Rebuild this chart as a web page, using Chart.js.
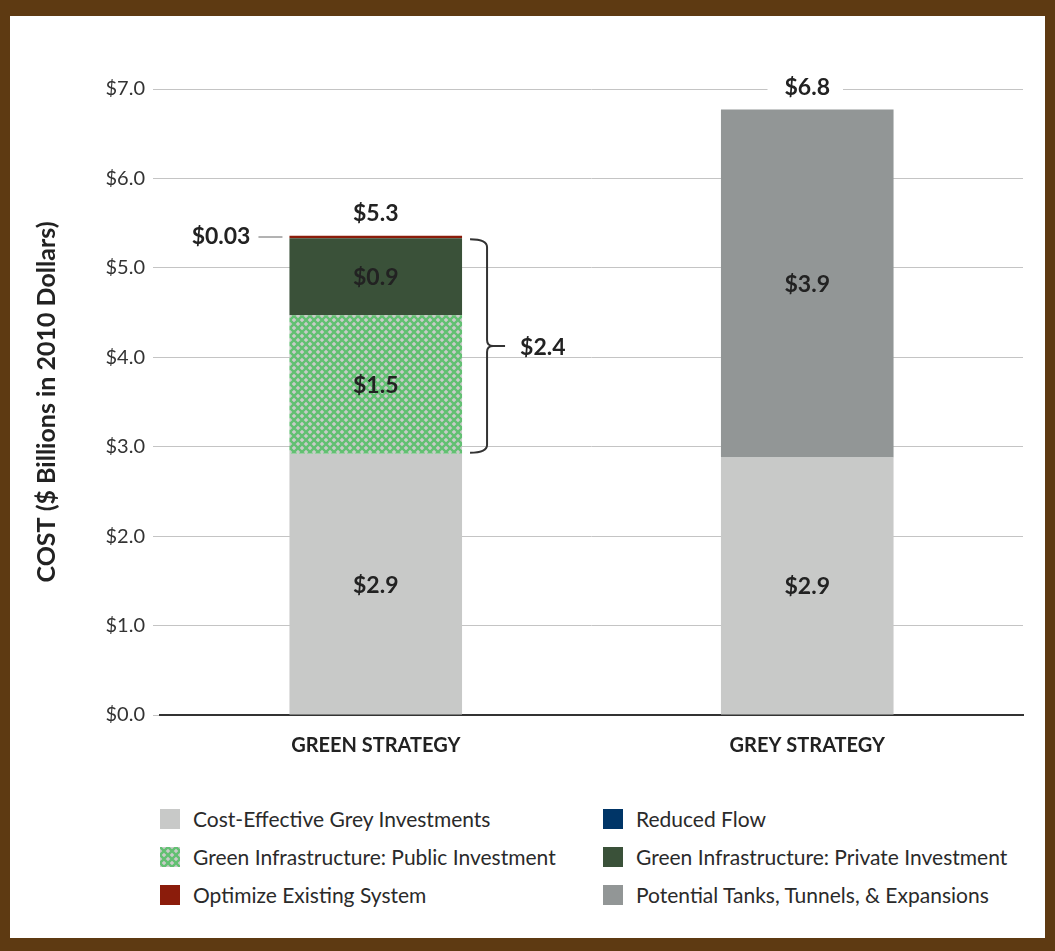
<!DOCTYPE html>
<html>
<head>
<meta charset="utf-8">
<script src="https://cdn.jsdelivr.net/npm/chart.js@4"></script>
<style>
  html, body { margin: 0; padding: 0; }
  body { width: 1055px; height: 951px; background: #5e3a12; position: relative; overflow: hidden; font-family: Lato, "Open Sans", sans-serif; }
  #panel { position: absolute; left: 10px; top: 16px; width: 1035px; height: 922px; background: #fff; }
  #chartBox { position: absolute; left: 0; top: 0; width: 1035px; height: 770px; }
  #legend { position: absolute; left: 150px; top: 790px; width: 880px; }
  .item { position: absolute; display: flex; align-items: center; font-size: 21px; color: #2a2a2a; white-space: nowrap; }
  .sw { width: 20px; height: 20px; margin-right: 13px; }
</style>
</head>
<body>
<div id="panel">
  <div id="chartBox"><canvas id="chart"></canvas></div>
  <div id="legend"></div>
</div>
<script>
const categories = ["GREEN STRATEGY", "GREY STRATEGY"];
const costEffectiveGrey = [2.92, 2.88];
const reducedFlow = [0, 0];
const greenPublic = [1.55, 0];
const greenPrivate = [0.86, 0];
const optimizeExisting = [0.03, 0];
const tanksTunnels = [0, 3.89];

// printed labels
const greyLabels = ["$2.9", "$2.9"];
const publicLabels = ["$1.5", ""];
const privateLabels = ["$0.9", ""];
const tanksLabels = ["", "$3.9"];
const totalLabels = ["$5.3", "$6.8"];
const optimizeCallout = "$0.03";
const bracketLabel = "$2.4";

const yMin = 0, yMax = 7, yStep = 1;
const FONT = "Lato, 'Open Sans', sans-serif";

// crosshatch fill for the public green investment
function makePattern() {
  const c = document.createElement("canvas");
  c.width = 8; c.height = 8;
  const g = c.getContext("2d");
  g.fillStyle = "#c9cbc9";
  g.fillRect(0, 0, 8, 8);
  g.strokeStyle = "#62c072";
  g.lineWidth = 2.4;
  g.beginPath();
  g.moveTo(-1, -1); g.lineTo(9, 9);
  g.moveTo(9, -1); g.lineTo(-1, 9);
  g.stroke();
  return c;
}
const patCanvas = makePattern();
const patFill = document.getElementById("chart").getContext("2d").createPattern(patCanvas, "repeat");

const legendItems = [
  { label: "Cost-Effective Grey Investments", color: "#c8c9c8", col: 0, row: 0 },
  { label: "Reduced Flow", color: "#003567", col: 1, row: 0 },
  { label: "Green Infrastructure: Public Investment", pattern: true, col: 0, row: 1 },
  { label: "Green Infrastructure: Private Investment", color: "#3a5139", col: 1, row: 1 },
  { label: "Optimize Existing System", color: "#8b1c0b", col: 0, row: 2 },
  { label: "Potential Tanks, Tunnels, & Expansions", color: "#929696", col: 1, row: 2 }
];

const legendEl = document.getElementById("legend");
legendItems.forEach(it => {
  const d = document.createElement("div");
  d.className = "item";
  d.style.left = (it.col * 443) + "px";
  d.style.top = (it.row * 38) + "px";
  const sw = document.createElement("span");
  sw.className = "sw";
  if (it.pattern) sw.style.background = "url(" + patCanvas.toDataURL() + ")";
  else sw.style.background = it.color;
  d.appendChild(sw);
  d.appendChild(document.createTextNode(it.label));
  legendEl.appendChild(d);
});

const barLabels = {
  id: "barLabels",
  afterDatasetsDraw(chart) {
    const ctx = chart.ctx;
    const ys = chart.scales.y;
    ctx.save();
    ctx.fillStyle = "#222";
    ctx.textAlign = "center";
    ctx.textBaseline = "middle";
    ctx.font = "bold 23px " + FONT;
    const segs = [[0, greyLabels], [2, publicLabels], [3, privateLabels], [5, tanksLabels]];
    segs.forEach(([di, labels]) => {
      chart.getDatasetMeta(di).data.forEach((el, i) => {
        if (labels[i]) ctx.fillText(labels[i], el.x, (el.y + el.base) / 2 + 1);
      });
    });

    // totals above the bars
    categories.forEach((c, i) => {
      const total = chart.data.datasets.reduce((s, ds) => s + ds.data[i], 0);
      const x = chart.getDatasetMeta(0).data[i].x;
      const y = ys.getPixelForValue(total) - 22;
      const w = ctx.measureText(totalLabels[i]).width;
      ctx.fillStyle = "#fff";
      ctx.fillRect(x - w / 2 - 17, y - 12, w + 30, 24);
      ctx.fillStyle = "#222";
      ctx.fillText(totalLabels[i], x, y);
    });

    // $0.03 callout for optimize segment
    const opt = chart.getDatasetMeta(4).data[0];
    const left = opt.x - opt.width / 2;
    const oy = (opt.y + opt.base) / 2;
    ctx.strokeStyle = "#999";
    ctx.lineWidth = 1.5;
    ctx.beginPath();
    ctx.moveTo(left - 31, oy); ctx.lineTo(left - 7, oy);
    ctx.stroke();
    ctx.textAlign = "right";
    ctx.fillText(optimizeCallout, left - 39, oy);

    // brace around the green infrastructure segments
    const pub = chart.getDatasetMeta(2).data[0];
    const priv = chart.getDatasetMeta(3).data[0];
    const right = pub.x + pub.width / 2;
    const t = priv.y + 1, b = pub.base - 1, m = (t + b) / 2;
    const x0 = right + 8, x1 = right + 25, xm = x1 + 6;
    ctx.strokeStyle = "#333";
    ctx.lineWidth = 2;
    ctx.beginPath();
    ctx.moveTo(x0, t);
    ctx.quadraticCurveTo(x1, t, x1, t + 8);
    ctx.lineTo(x1, m - 6);
    ctx.quadraticCurveTo(x1, m, xm, m);
    ctx.quadraticCurveTo(x1, m, x1, m + 6);
    ctx.lineTo(x1, b - 8);
    ctx.quadraticCurveTo(x1, b, x0, b);
    ctx.moveTo(xm, m); ctx.lineTo(x1 + 18, m);
    ctx.stroke();
    ctx.textAlign = "left";
    ctx.fillText(bracketLabel, x1 + 33, m + 1);
    ctx.restore();
  }
};

new Chart(document.getElementById("chart"), {
  type: "bar",
  data: {
    labels: categories,
    datasets: [
      { label: "Cost-Effective Grey Investments", data: costEffectiveGrey, backgroundColor: "#c8c9c8" },
      { label: "Reduced Flow", data: reducedFlow, backgroundColor: "#003567" },
      { label: "Green Infrastructure: Public Investment", data: greenPublic, backgroundColor: patFill },
      { label: "Green Infrastructure: Private Investment", data: greenPrivate, backgroundColor: "#3a5139" },
      { label: "Optimize Existing System", data: optimizeExisting, backgroundColor: "#8b1c0b" },
      { label: "Potential Tanks, Tunnels, & Expansions", data: tanksTunnels, backgroundColor: "#929696" }
    ]
  },
  options: {
    responsive: true,
    maintainAspectRatio: false,
    animation: false,
    events: [],
    datasets: { bar: { barPercentage: 0.4, categoryPercentage: 1 } },
    layout: { padding: { top: 73, right: 22, left: 0, bottom: 0 } },
    scales: {
      x: {
        stacked: true,
        grid: { display: false },
        border: { display: true, color: "#333", width: 2 },
        ticks: { color: "#222", padding: 11, font: { family: FONT, size: 20, weight: "bold" } },
        afterFit: s => { s.height = 71; }
      },
      y: {
        stacked: true,
        min: yMin, max: yMax,
        grid: { color: "#c4c4c4", lineWidth: 1, tickLength: 7 },
        border: { display: false },
        ticks: {
          stepSize: yStep, padding: 8, color: "#333",
          font: { family: FONT, size: 20 },
          callback: v => "$" + v.toFixed(1)
        },
        title: {
          display: true, text: "COST ($ Billions in 2010 Dollars)", color: "#222",
          font: { family: FONT, size: 25, weight: "bold" }, padding: { top: 22, bottom: 0 }
        },
        afterFit: s => { s.width = 150; }
      }
    },
    plugins: { legend: { display: false }, tooltip: { enabled: false } }
  },
  plugins: [barLabels]
});
</script>
</body>
</html>
